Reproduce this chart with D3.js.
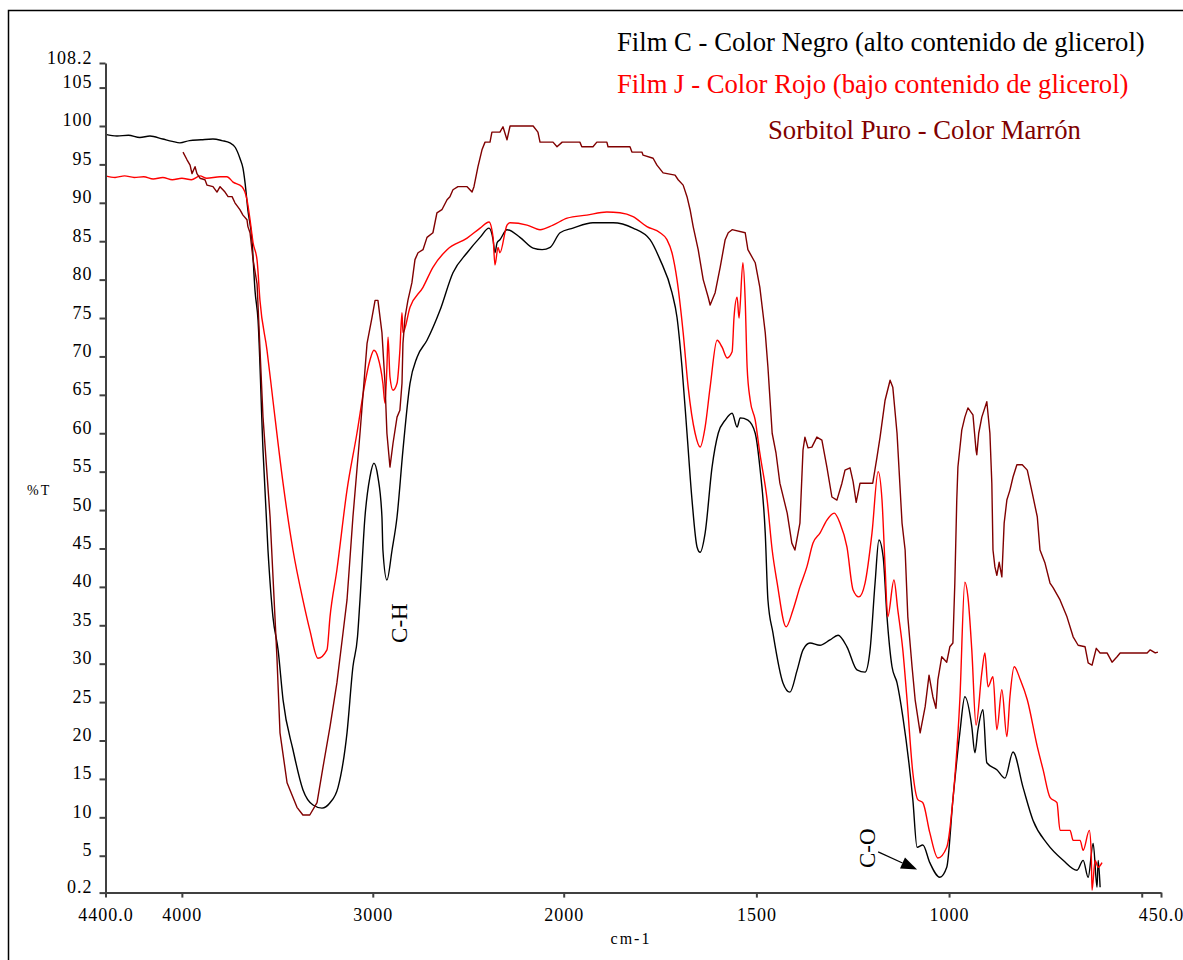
<!DOCTYPE html>
<html>
<head>
<meta charset="utf-8">
<script src="https://cdn.jsdelivr.net/npm/d3@7"></script>
<style>
  body { margin: 0; background: #fff; }
  svg { display: block; font-family: "Liberation Serif", "Times New Roman", serif; }
</style>
</head>
<body>
<div id="chart"></div>
<script>
// [wavenumber cm-1, %T]
const filmC = [
  [4400, 98.9], [4340, 98.7], [4280, 98.8], [4220, 98.5], [4167, 98.7], [4100, 98.3],
  [4050, 98.0], [4010, 97.8], [3960, 98.1], [3900, 98.2], [3837, 98.3], [3790, 98.1],
  [3748, 97.8], [3720, 97.2], [3696, 95.8], [3680, 94.5], [3669, 92.6], [3654, 89.0],
  [3633, 85.2], [3617, 78.6], [3601, 74.7], [3575, 57.8], [3549, 44.8], [3523, 36.1],
  [3496, 31.8], [3470, 25.3], [3418, 18.8], [3366, 13.6], [3313, 11.6], [3266, 11.2],
  [3224, 11.9], [3182, 13.9], [3135, 21.0], [3104, 29.6], [3080, 33.5], [3067, 38.3],
  [3041, 49.1], [3015, 54.3], [2994, 56.1], [2973, 54.3], [2952, 49.1], [2947, 44.8],
  [2926, 40.9], [2899, 44.8], [2873, 49.1], [2842, 57.8], [2805, 66.5], [2768, 69.9],
  [2716, 72.1], [2648, 76.0], [2580, 80.9], [2506, 83.5], [2438, 85.5], [2391, 86.7],
  [2370, 85.2], [2360, 83.5], [2349, 84.8], [2334, 85.2], [2297, 86.5], [2229, 85.5],
  [2160, 84.1], [2113, 83.9], [2071, 84.2], [2019, 86.1], [1976, 86.7], [1924, 87.4],
  [1872, 87.4], [1820, 86.7], [1776, 85.2], [1750, 82.6], [1719, 78.3], [1706, 75.1],
  [1693, 68.6], [1680, 60.0], [1667, 51.3], [1654, 45.2], [1646, 44.5], [1633, 47.0],
  [1615, 55.6], [1599, 60.0], [1581, 61.7], [1563, 62.6], [1550, 60.8], [1542, 62.0],
  [1522, 61.7], [1503, 60.0], [1491, 55.6], [1477, 47.0], [1470, 38.3], [1457, 34.0],
  [1431, 27.5], [1413, 26.3], [1394, 29.2], [1379, 31.8], [1361, 32.7], [1335, 32.4],
  [1309, 33.1], [1288, 33.7], [1265, 32.2], [1239, 29.2], [1218, 28.9], [1205, 31.8],
  [1192, 40.5], [1182, 46.1], [1171, 43.9], [1161, 36.1], [1148, 29.6], [1135, 27.5],
  [1120, 23.1], [1094, 12.3], [1083, 6.1], [1068, 6.4], [1050, 4.1], [1024, 2.2],
  [1006, 3.5], [990, 12.3], [972, 21.0], [959, 25.7], [941, 21.8], [933, 18.4],
  [925, 21.4], [912, 24.0], [902, 17.1], [876, 16.2], [855, 15.1], [834, 18.5],
  [808, 13.9], [782, 9.6], [746, 6.6], [704, 4.4], [668, 3.1], [652, 4.4],
  [639, 2.2], [626, 6.6], [616, 0.9], [613, 4.4], [608, 0.9]
];

const filmJ = [
  [4400, 93.5], [4350, 93.3], [4300, 93.5], [4250, 93.3], [4200, 93.4], [4150, 93.1],
  [4100, 93.3], [4050, 93.0], [4000, 93.2], [3950, 93.0], [3905, 93.5], [3870, 93.2],
  [3800, 93.4], [3764, 93.4], [3732, 92.7], [3685, 92.1], [3659, 90.4], [3643, 87.8],
  [3627, 84.8], [3606, 82.5], [3591, 77.3], [3554, 70.8], [3523, 64.3], [3470, 53.5],
  [3418, 44.8], [3366, 38.3], [3330, 34.4], [3287, 30.7], [3240, 31.8], [3224, 36.1],
  [3188, 42.2], [3135, 52.6], [3083, 60.0], [3041, 66.5], [3015, 69.5], [2994, 70.8],
  [2973, 69.9], [2947, 66.5], [2936, 63.9], [2926, 68.6], [2920, 72.5], [2910, 67.3],
  [2894, 65.6], [2873, 66.5], [2858, 70.8], [2847, 75.7], [2842, 73.1], [2805, 76.4],
  [2737, 79.0], [2685, 81.6], [2611, 83.9], [2506, 85.4], [2438, 86.7], [2391, 87.5],
  [2370, 85.5], [2360, 81.9], [2344, 84.2], [2334, 83.5], [2297, 87.1], [2281, 87.4],
  [2192, 87.1], [2124, 86.5], [2056, 87.1], [1991, 88.0], [1940, 88.4], [1888, 88.8],
  [1854, 88.7], [1820, 88.2], [1784, 86.9], [1750, 86.1], [1732, 85.2], [1719, 83.5],
  [1706, 80.0], [1690, 73.1], [1677, 66.0], [1659, 60.0], [1646, 58.2], [1633, 60.8],
  [1620, 66.0], [1602, 72.1], [1589, 71.2], [1576, 69.8], [1563, 70.6], [1558, 75.1],
  [1550, 77.7], [1545, 75.0], [1535, 82.2], [1529, 77.3], [1524, 68.6], [1516, 64.3],
  [1503, 61.7], [1491, 57.4], [1472, 51.3], [1459, 44.8], [1446, 40.5], [1423, 34.8],
  [1405, 37.0], [1387, 40.0], [1369, 42.6], [1353, 45.7], [1335, 47.0], [1317, 48.7],
  [1298, 49.6], [1283, 48.3], [1265, 45.2], [1249, 39.6], [1234, 38.7], [1218, 40.5],
  [1200, 47.0], [1184, 55.0], [1174, 51.3], [1166, 42.6], [1159, 36.1], [1143, 40.9],
  [1133, 37.0], [1120, 31.8], [1109, 25.3], [1094, 15.8], [1081, 12.3], [1068, 11.9],
  [1050, 8.0], [1029, 4.7], [1006, 6.1], [990, 12.3], [972, 25.3], [959, 40.6],
  [951, 38.7], [941, 31.8], [930, 22.0], [915, 28.8], [907, 31.4], [899, 27.0],
  [886, 28.3], [876, 21.4], [863, 26.6], [850, 20.5], [842, 25.7], [831, 29.6],
  [815, 27.9], [797, 25.3], [771, 19.2], [756, 16.2], [738, 12.6], [720, 11.9],
  [712, 8.3], [686, 8.3], [678, 7.0], [660, 7.0], [652, 5.7], [636, 8.3],
  [631, 5.3], [629, 0.5], [621, 4.4], [613, 3.5], [603, 4.1]
];

const sorbitol = [
  [3994, 96.6], [3973, 95.6], [3957, 94.9], [3947, 93.8], [3931, 94.7], [3921, 93.8],
  [3905, 93.2], [3879, 93.0], [3868, 92.3], [3837, 92.1], [3816, 91.4], [3800, 92.1],
  [3774, 91.4], [3758, 90.8], [3737, 90.8], [3722, 90.0], [3696, 89.1], [3680, 88.4],
  [3659, 87.8], [3654, 86.9], [3643, 86.1], [3627, 82.6], [3606, 79.4], [3575, 62.1],
  [3538, 49.1], [3502, 30.8], [3486, 21.0], [3449, 14.5], [3397, 11.3], [3366, 10.3],
  [3330, 10.3], [3292, 11.9], [3261, 16.5], [3224, 21.8], [3188, 27.5], [3156, 34.0],
  [3135, 38.3], [3104, 49.1], [3067, 60.0], [3030, 71.7], [3004, 75.1], [2988, 77.3],
  [2973, 77.3], [2952, 73.1], [2936, 66.5], [2926, 60.0], [2910, 55.6], [2894, 58.7],
  [2873, 62.1], [2858, 63.0], [2847, 66.5], [2842, 71.7], [2831, 75.1], [2816, 77.3],
  [2795, 79.6], [2779, 82.6], [2763, 83.5], [2737, 83.9], [2716, 85.5], [2685, 86.1],
  [2664, 88.7], [2638, 89.1], [2611, 90.4], [2596, 90.8], [2580, 91.7], [2554, 92.1],
  [2506, 92.1], [2480, 91.4], [2470, 92.1], [2449, 94.7], [2428, 96.9], [2412, 97.9],
  [2386, 97.9], [2376, 99.2], [2334, 99.2], [2318, 99.9], [2297, 98.2], [2281, 100],
  [2160, 100], [2135, 99.2], [2124, 97.9], [2056, 97.9], [2035, 97.3], [2008, 97.9],
  [1958, 97.9], [1953, 97.3], [1924, 97.3], [1914, 97.9], [1888, 97.9], [1885, 97.3],
  [1828, 97.3], [1823, 96.6], [1797, 96.6], [1794, 96.2], [1768, 95.8], [1758, 94.9],
  [1742, 93.9], [1711, 93.6], [1703, 93.0], [1690, 92.3], [1680, 90.8], [1672, 89.1],
  [1664, 86.9], [1651, 83.9], [1638, 80.0], [1625, 77.7], [1620, 76.7], [1607, 78.3],
  [1594, 81.6], [1581, 85.2], [1573, 86.1], [1563, 86.5], [1529, 86.1], [1522, 83.9],
  [1503, 82.2], [1491, 79.0], [1477, 73.1], [1470, 68.6], [1459, 60.0], [1449, 57.4],
  [1439, 53.5], [1420, 49.6], [1408, 45.7], [1400, 44.8], [1387, 48.3], [1379, 57.8],
  [1374, 59.5], [1366, 58.1], [1356, 58.2], [1343, 59.5], [1330, 59.1], [1317, 55.6],
  [1304, 51.7], [1291, 51.3], [1278, 53.5], [1270, 55.2], [1257, 55.5], [1249, 53.7],
  [1241, 51.0], [1231, 53.5], [1198, 53.5], [1187, 56.9], [1179, 59.5], [1166, 64.3],
  [1153, 66.9], [1146, 66.0], [1135, 60.0], [1122, 48.3], [1114, 44.8], [1107, 36.1],
  [1096, 29.6], [1088, 25.3], [1075, 21.0], [1062, 24.4], [1052, 28.5], [1042, 25.7],
  [1034, 24.2], [1029, 27.9], [1019, 30.9], [1006, 30.2], [998, 32.2], [990, 32.7],
  [985, 40.5], [980, 51.3], [977, 55.6], [967, 60.4], [959, 62.1], [951, 63.3],
  [938, 62.4], [930, 57.8], [928, 57.2], [923, 60.0], [915, 62.1], [902, 64.1],
  [894, 60.0], [889, 53.5], [886, 44.8], [881, 42.6], [876, 41.5], [870, 43.2],
  [863, 41.3], [857, 48.3], [850, 51.3], [842, 52.6], [834, 54.3], [824, 55.9],
  [810, 55.9], [797, 55.2], [784, 52.2], [771, 49.1], [764, 44.8], [751, 43.1],
  [738, 40.5], [730, 39.9], [712, 38.3], [694, 36.1], [678, 33.5], [665, 32.4],
  [647, 32.2], [639, 30.1], [629, 29.8], [618, 32.0], [608, 31.4], [590, 31.4],
  [577, 30.2], [564, 30.9], [556, 31.4], [486, 31.4], [478, 31.8], [465, 31.4],
  [458, 31.5]
];

const xTicks = [4400, 4000, 3000, 2000, 1500, 1000, 500, 450];
const xLabels = ["4400.0", "4000", "3000", "2000", "1500", "1000", "", "450.0"];
const yTicks = [0.2, 5, 10, 15, 20, 25, 30, 35, 40, 45, 50, 55, 60, 65, 70, 75, 80, 85, 90, 95, 100, 105, 108.2];

const seriesNames = [
  "Film C - Color Negro (alto contenido de glicerol)",
  "Film J - Color Rojo (bajo contenido de glicerol)",
  "Sorbitol Puro - Color Marrón"
];
const seriesColors = ["#000000", "#ff0000", "#800000"];

// annotations: [wavenumber, %T]
const chLabel = { text: "C-H", at: [2823, 32.7] };
const coLabel = { text: "C-O", at: [1192, 3.4] };
const coArrow = [[1184, 5.5], [1083, 3.2]];

const width = 1183;
const height = 960;
const serif = "'Liberation Serif', 'Times New Roman', serif";

const x = d3.scaleLinear()
  .domain([4400, 2000, 450])
  .range([105.5, 563.7, 1161]);

const y = d3.scaleLinear()
  .domain([0.2, 108.2])
  .range([892.6, 63]);

const svg = d3.select("#chart")
  .append("svg")
  .attr("width", width)
  .attr("height", height);

// outer frame (right and bottom edges fall outside the picture)
svg.append("rect")
  .attr("x", 8.5)
  .attr("y", 10.5)
  .attr("width", 1190)
  .attr("height", 960)
  .attr("fill", "none")
  .attr("stroke", "#000")
  .attr("stroke-width", 1.5);

const smoothLine = d3.line()
  .x(d => x(d[0]))
  .y(d => y(d[1]))
  .curve(d3.curveMonotoneX);

const stepLine = d3.line()
  .x(d => x(d[0]))
  .y(d => y(d[1]));

[filmC, filmJ, sorbitol].forEach((s, i) => {
  svg.append("path")
    .datum(s)
    .attr("fill", "none")
    .attr("stroke", seriesColors[i])
    .attr("stroke-width", 1.4)
    .attr("stroke-linejoin", "round")
    .attr("d", i === 2 ? stepLine : smoothLine);
});

const axisColor = "#404040";

const xAxis = svg.append("g")
  .attr("transform", `translate(0,${y(0.2)})`)
  .call(d3.axisBottom(x)
    .tickValues(xTicks)
    .tickFormat((d, i) => xLabels[i])
    .tickSize(5)
    .tickSizeOuter(0))
  .attr("font-family", serif)
  .attr("font-size", 18);

xAxis.selectAll("text")
  .attr("y", 28.4)
  .attr("dy", 0)
  .style("letter-spacing", "1px")
  .attr("fill", "#000");

const yAxis = svg.append("g")
  .attr("transform", `translate(${x(4400)},0)`)
  .call(d3.axisLeft(y)
    .tickValues(yTicks)
    .tickFormat(d => String(d))
    .tickSize(6)
    .tickSizeOuter(0))
  .attr("font-family", serif)
  .attr("font-size", 18);

yAxis.selectAll("text")
  .attr("x", -13)
  .attr("dy", 0)
  .style("letter-spacing", "1px")
  .attr("fill", "#000");

svg.selectAll(".domain, .tick line")
  .attr("stroke", axisColor)
  .attr("stroke-width", 2);

svg.append("text")
  .attr("x", 27)
  .attr("y", 495)
  .style("font-size", "14px")
  .style("letter-spacing", "2px")
  .text("%T");

svg.append("text")
  .attr("x", 631)
  .attr("y", 944)
  .attr("text-anchor", "middle")
  .style("font-size", "16px")
  .style("letter-spacing", "2px")
  .text("cm-1");

// legend
const legendPos = [[617, 51], [617, 93], [768, 139]];
seriesNames.forEach((name, i) => {
  svg.append("text")
    .attr("x", legendPos[i][0])
    .attr("y", legendPos[i][1])
    .attr("fill", seriesColors[i])
    .style("font-size", "26.7px")
    .text(name);
});

// annotations
[chLabel, coLabel].forEach(a => {
  svg.append("text")
    .attr("transform", `translate(${x(a.at[0])},${y(a.at[1])}) rotate(-90)`)
    .style("font-size", "23px")
    .text(a.text);
});

const p0 = [x(coArrow[0][0]), y(coArrow[0][1])];
const p1 = [x(coArrow[1][0]), y(coArrow[1][1])];
const len = Math.hypot(p1[0] - p0[0], p1[1] - p0[1]);
const ux = (p1[0] - p0[0]) / len, uy = (p1[1] - p0[1]) / len;
const headLen = 16, headHalf = 6;
const base = [p1[0] - ux * headLen, p1[1] - uy * headLen];

svg.append("line")
  .attr("x1", p0[0]).attr("y1", p0[1])
  .attr("x2", base[0]).attr("y2", base[1])
  .attr("stroke", "#000")
  .attr("stroke-width", 1.2);

svg.append("path")
  .attr("d", d3.line()([
    p1,
    [base[0] - uy * headHalf, base[1] + ux * headHalf],
    [base[0] + uy * headHalf, base[1] - ux * headHalf]
  ]) + "Z")
  .attr("fill", "#000");
</script>
</body>
</html>
